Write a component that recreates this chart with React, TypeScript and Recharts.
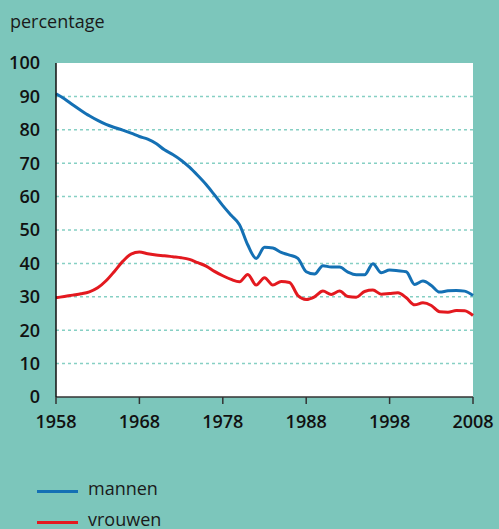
import React from "react";
import { LineChart, Line, XAxis, YAxis, CartesianGrid } from "recharts";

const years: number[] = [
  1958, 1959, 1960, 1961, 1962, 1963, 1964, 1965, 1966, 1967,
  1968, 1969, 1970, 1971, 1972, 1973, 1974, 1975, 1976, 1977,
  1978, 1979, 1980, 1981, 1982, 1983, 1984, 1985, 1986, 1987,
  1988, 1989, 1990, 1991, 1992, 1993, 1994, 1995, 1996, 1997,
  1998, 1999, 2000, 2001, 2002, 2003, 2004, 2005, 2006, 2007, 2008,
];

const mannen: number[] = [
  90.8, 89.3, 87.5, 85.8, 84.2, 82.8, 81.6, 80.7, 79.9, 79.0,
  78.0, 77.2, 75.9, 74.0, 72.6, 70.9, 68.8, 66.3, 63.6, 60.5,
  57.3, 54.4, 51.6, 45.5, 41.5, 44.8, 44.6, 43.3, 42.5, 41.5,
  37.5, 36.8, 39.3, 38.9, 38.9, 37.4, 36.6, 36.6, 39.9, 37.2,
  38.0, 37.8, 37.5, 33.7, 34.7, 33.4, 31.4, 31.8, 31.9, 31.7, 30.4,
];

const vrouwen: number[] = [
  29.7, 30.1, 30.5, 30.9, 31.5, 32.7, 34.8, 37.6, 40.6, 42.8,
  43.4, 42.9, 42.5, 42.3, 42.0, 41.7, 41.2, 40.2, 39.2, 37.6,
  36.3, 35.2, 34.5, 36.7, 33.5, 35.7, 33.5, 34.6, 34.3, 30.4,
  29.2, 30.0, 31.7, 30.7, 31.7, 30.1, 29.9, 31.6, 32.0, 30.8,
  31.0, 31.2, 29.7, 27.6, 28.2, 27.4, 25.5, 25.4, 25.9, 25.8, 24.4,
];

const xTicks: number[] = [1958, 1968, 1978, 1988, 1998, 2008];
const yTicks: number[] = [0, 10, 20, 30, 40, 50, 60, 70, 80, 90, 100];
const gridValues: number[] = [10, 20, 30, 40, 50, 60, 70, 80, 90];

const seriesNames = ["mannen", "vrouwen"];
const seriesColors = ["#1470b4", "#e3191f"];

const data = years.map((y, i) => ({ year: y, mannen: mannen[i], vrouwen: vrouwen[i] }));

const BG = "#7cc6bb";
const FONT = "'Open Sans', 'Noto Sans', sans-serif";

export default function App() {
  return (
    <div
      style={{
        position: "absolute",
        left: 0,
        top: 0,
        width: 499,
        height: 529,
        background: BG,
        fontFamily: FONT,
        overflow: "hidden",
      }}
    >
      <div
        style={{
          position: "absolute",
          left: 10,
          top: 9,
          fontSize: 18,
          color: "#1a1a1a",
        }}
      >
        percentage
      </div>
      <LineChart
        width={499}
        height={529}
        data={data}
        margin={{ top: 63, right: 26, bottom: 0, left: 0 }}
      >
        <CartesianGrid
          fill="#ffffff"
          vertical={false}
          horizontalValues={gridValues}
          stroke="#86d0c4"
          strokeDasharray="3 3"
          strokeWidth={1.5}
        />
        <XAxis
          dataKey="year"
          type="number"
          domain={[1958, 2008]}
          ticks={xTicks}
          height={132}
          axisLine={{ stroke: "#333333", strokeWidth: 1.5 }}
          tickLine={{ stroke: "#333333", strokeWidth: 1.5 }}
          tickSize={7}
          tickMargin={11}
          tick={{ fill: "#111111", fontSize: 18, fontWeight: 600, fontFamily: FONT }}
          interval={0}
        />
        <YAxis
          type="number"
          domain={[0, 100]}
          ticks={yTicks}
          width={56}
          axisLine={{ stroke: "#111111", strokeWidth: 1.5 }}
          tickLine={false}
          tickSize={0}
          tickMargin={16}
          tick={{ fill: "#111111", fontSize: 18, fontWeight: 600, fontFamily: FONT }}
          interval={0}
        />
        <Line
          type="monotone"
          dataKey="mannen"
          stroke={seriesColors[0]}
          strokeWidth={3}
          dot={false}
          isAnimationActive={false}
        />
        <Line
          type="monotone"
          dataKey="vrouwen"
          stroke={seriesColors[1]}
          strokeWidth={3}
          dot={false}
          isAnimationActive={false}
        />
      </LineChart>
      {seriesNames.map((name, i) => (
        <div
          key={name}
          style={{
            position: "absolute",
            left: 37,
            top: 476 + i * 31,
            height: 24,
            display: "flex",
            alignItems: "center",
          }}
        >
          <div style={{ width: 41, height: 3, background: seriesColors[i], marginTop: 6 }} />
          <span style={{ marginLeft: 10, fontSize: 18, color: "#1a1a1a" }}>{name}</span>
        </div>
      ))}
    </div>
  );
}
